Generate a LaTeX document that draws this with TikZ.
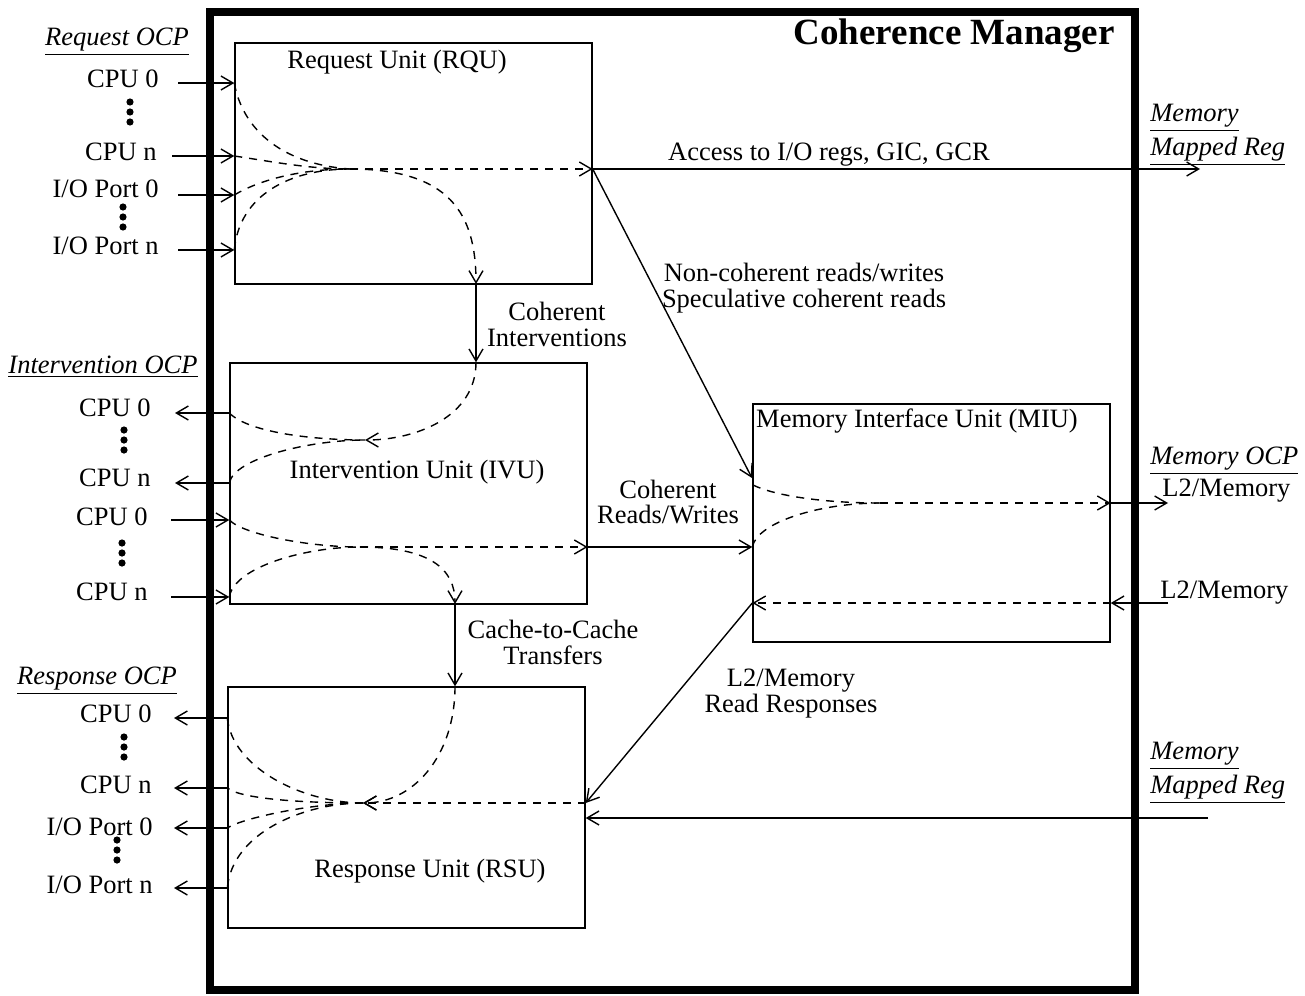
\documentclass[tikz,border=0pt]{standalone}
\usepackage{fontspec}
\setmainfont{Liberation Serif}
\usetikzlibrary{arrows.meta,calc}
\def\portdots(#1,#2){\fill (#1,#2) circle (1.8pt); \fill (#1,#2+10) circle (1.8pt); \fill (#1,#2+20) circle (1.8pt);}
\tikzset{
  unitbox/.style={draw, line width=0.7pt, minimum width=178.5pt, minimum height=120.5pt, inner sep=0pt},
  port/.style={anchor=east, inner sep=0pt},
  ocp/.style={font=\fontsize{13.25}{13}\selectfont\itshape},
  flow/.style={dash pattern=on 4pt off 3.5pt, line width=0.7pt},
  wire/.style={line width=0.7pt},
  arrowed/.style={-{Straight Barb[length=6pt,width=7pt]}}
}

\begin{document}
\begin{tikzpicture}[x=0.5pt, y=-0.5pt, font=\fontsize{13.25}{13}\selectfont]
		%%%%% START %%%%%
		\useasboundingbox (0,0) rectangle (1305,995);
		
		\node[draw, line width=4pt, minimum width=462.25pt, minimum height=489pt] (cm) at (672.25,501) {};
		\node[anchor=east, inner sep=0pt, font=\fontsize{18.5}{20}\selectfont\bfseries] (cmtitle) at (1115,36) {Coherence Manager};
		
		\node[unitbox] (rqu) at (413.5,163.5) {};
		\node[unitbox] (ivu) at (408.5,483.5) {};
		\node[unitbox] (rsu) at (406.5,807.5) {};
		\node[unitbox, minimum height=119pt] (miu) at (931.5,523) {};
		\node (rqulabel) at (397,62) {Request Unit (RQU)};
		\node (ivulabel) at (417,472) {Intervention Unit (IVU)};
		\node (rsulabel) at (430,871) {Response Unit (RSU)};
		\node (miulabel) at (917,421) {Memory Interface Unit (MIU)};
		
		%%%%% REQUEST %%%%%
		\node[ocp] (rqocp) at (117,42) {\underline{Request OCP}};
		\coordinate (rq0) at (178,83);
		\coordinate (rqn) at (172,156);
		\coordinate (rqio0) at (178,195);
		\coordinate (rqion) at (178,250);
		\node[port] (rq0label) at ([shift={(-19,-4)}]rq0) {CPU 0};
		\node[port] (rqnlabel) at ([shift={(-15,-4)}]rqn) {CPU n};
		\node[port] (rqio0label) at ([shift={(-19,-6)}]rqio0) {I/O Port 0};
		\node[port] (rqionlabel) at ([shift={(-19,-4)}]rqion) {I/O Port n};
		\portdots(130,102)
		\portdots(123,207)
		
		\draw[wire,arrowed] (rq0) -- (rq0 -| rqu.west) coordinate (rq0e);
		\draw[wire,arrowed] (rqn) -- (rqn -| rqu.west) coordinate (rqne);
		\draw[wire,arrowed] (rqio0) -- (rqio0 -| rqu.west) coordinate (rqio0e);
		\draw[wire,arrowed] (rqion) -- (rqion -| rqu.west) coordinate (rqione);
		
		\coordinate (rqj) at (350,169);
		\draw[flow] (rq0e) .. controls +(8,45) and +(-70,-5) .. (rqj);
		\draw[flow] (rqne) .. controls +(40,6) and +(-40,0) .. (rqj);
		\draw[flow] (rqio0e) .. controls +(25,-15) and +(-50,0) .. (rqj);
		\draw[flow] (rqione) .. controls +(5,-55) and +(-60,0) .. (rqj);
		\draw[flow,arrowed] (rqj) -- (rqj -| rqu.east) coordinate (rqo);
		\coordinate (rqd) at (476,284);
		\draw[flow,arrowed] (rqj) .. controls +(100,0) and +(0,-70) .. (rqd);
		\draw[wire,arrowed] (rqd) -- (rqd |- ivu.north);
		\node[align=center] (cohint) at (557,324) {Coherent\\Interventions};
		
		\coordinate (mmrout) at (1200,169);
		\draw[wire,arrowed] (rqo) -- (mmrout);
		\node (access) at (829,155) {Access to I/O regs, GIC, GCR};
		\node[ocp, align=left, anchor=west, inner sep=0pt] (mmrtop) at (1150,135) {\underline{Memory}\\[2pt]\underline{Mapped Reg}};
		
		\coordinate (miuin) at (752,478);
		\draw[wire,arrowed] (rqo) -- (miuin);
		\node[align=center] (noncoh) at (804,288) {Non-coherent reads/writes\\Speculative coherent reads};
		
		%%%%% INTERVENTION %%%%%
		\node[ocp] (ivocp) at (103,367) {\underline{Intervention OCP}};
		\coordinate (iv0) at (175,413);
		\coordinate (ivn) at (175,483);
		\coordinate (iv0in) at (171,520);
		\coordinate (ivnin) at (171,597);
		\node[port] (iv0label) at ([shift={(-24,-5)}]iv0) {CPU 0};
		\node[port] (ivnlabel) at ([shift={(-24,-5)}]ivn) {CPU n};
		\node[port] (iv0inlabel) at ([shift={(-23,-3)}]iv0in) {CPU 0};
		\node[port] (ivninlabel) at ([shift={(-23,-5)}]ivnin) {CPU n};
		\portdots(124,430)
		\portdots(122,543)
		
		\draw[wire,arrowed] (iv0 -| ivu.west) coordinate (iv0e) -- (iv0);
		\draw[wire,arrowed] (ivn -| ivu.west) coordinate (ivne) -- (ivn);
		\draw[wire,arrowed] (iv0in) -- (iv0in -| ivu.west) coordinate (iv0ine);
		\draw[wire,arrowed] (ivnin) -- (ivnin -| ivu.west) coordinate (ivnine);
		
		\coordinate (ivj) at (365,440);
		\draw[flow,arrowed] (rqd |- ivu.north) .. controls +(0,55) and +(50,0) .. (ivj);
		\draw[flow] (iv0e) .. controls +(20,20) and +(-50,0) .. (ivj);
		\draw[flow] (ivne) .. controls +(5,-25) and +(-55,0) .. (ivj);
		
		\coordinate (ivk) at (360,547);
		\draw[flow] (iv0ine) .. controls +(15,15) and +(-50,0) .. (ivk);
		\draw[flow] (ivnine) .. controls +(5,-30) and +(-55,0) .. (ivk);
		\draw[flow,arrowed] (ivk) -- (ivk -| ivu.east) coordinate (ivo);
		\coordinate (ivd) at (455,604);
		\draw[flow,arrowed] (ivk) .. controls +(70,0) and +(0,-35) .. (ivd);
		\draw[wire,arrowed] (ivd) -- (ivd |- rsu.north);
		\node[align=center] (c2c) at (553,642) {Cache-to-Cache\\Transfers};
		
		\draw[wire,arrowed] (ivo) -- (ivo -| miu.west) coordinate (miucoh);
		\node[align=center] (cohrw) at (668,502) {Coherent\\Reads/Writes};
		
		%%%%% MEMORY %%%%%
		\coordinate (miua) at (753,485);
		\coordinate (miuj) at (880,503);
		\draw[flow] (miua) .. controls +(20,10) and +(-60,0) .. (miuj);
		\draw[flow] (miucoh) .. controls +(5,-25) and +(-60,0) .. (miuj);
		\draw[flow,arrowed] (miuj) -- (miuj -| miu.east) coordinate (miuo);
		\coordinate (memout) at (1168,503);
		\draw[wire,arrowed] (miuo) -- (memout);
		\node[ocp, anchor=west, inner sep=0pt] (memocp) at (1150,461) {\underline{Memory OCP}};
		\node[anchor=west, inner sep=0pt] (l2out) at (1162,491) {L2/Memory};
		
		\coordinate (memin) at (1168,603);
		\draw[wire,arrowed] (memin) -- (memin -| miu.east) coordinate (miui);
		\draw[flow,arrowed] (miui) -- (miui -| miu.west) coordinate (miur);
		\node[anchor=west, inner sep=0pt] (l2in) at (1160,593) {L2/Memory};
		
		%%%%% RESPONSE %%%%%
		\node[ocp] (rsocp) at (97,681) {\underline{Response OCP}};
		\coordinate (rs0) at (174,718);
		\coordinate (rsn) at (174,788);
		\coordinate (rsio0) at (174,828);
		\coordinate (rsion) at (174,888);
		\node[port] (rs0label) at ([shift={(-22,-4)}]rs0) {CPU 0};
		\node[port] (rsnlabel) at ([shift={(-22,-3)}]rsn) {CPU n};
		\node[port] (rsio0label) at ([shift={(-21,-1)}]rsio0) {I/O Port 0};
		\node[port] (rsionlabel) at ([shift={(-21,-3)}]rsion) {I/O Port n};
		\portdots(124,737)
		\portdots(117,840)
		
		\draw[wire,arrowed] (rs0 -| rsu.west) coordinate (rs0e) -- (rs0);
		\draw[wire,arrowed] (rsn -| rsu.west) coordinate (rsne) -- (rsn);
		\draw[wire,arrowed] (rsio0 -| rsu.west) coordinate (rsio0e) -- (rsio0);
		\draw[wire,arrowed] (rsion -| rsu.west) coordinate (rsione) -- (rsion);
		
		\coordinate (rsj) at (363,803);
		\draw[wire,arrowed] (miur) -- (rsj -| rsu.east);
		\node[align=center] (l2rd) at (791,694) {L2/Memory\\Read Responses};
		\draw[flow,arrowed] (rsj -| rsu.east) -- (rsj);
		\draw[flow,arrowed] (ivd |- rsu.north) .. controls +(0,70) and +(50,0) .. (rsj);
		\draw[flow] (rsj) .. controls +(-60,0) and +(5,50) .. (rs0e);
		\draw[flow] (rsj) .. controls +(-50,0) and +(15,12) .. (rsne);
		\draw[flow] (rsj) .. controls +(-50,0) and +(15,-10) .. (rsio0e);
		\draw[flow] (rsj) .. controls +(-60,0) and +(5,-55) .. (rsione);
		
		\coordinate (mmrin) at (1208,818);
		\draw[wire,arrowed] (mmrin) -- (mmrin -| rsu.east);
		\node[ocp, align=left, anchor=west, inner sep=0pt] (mmrbot) at (1150,773) {\underline{Memory}\\[2pt]\underline{Mapped Reg}};
		
		%%%%% END %%%%%
	\end{tikzpicture}
\end{document}
